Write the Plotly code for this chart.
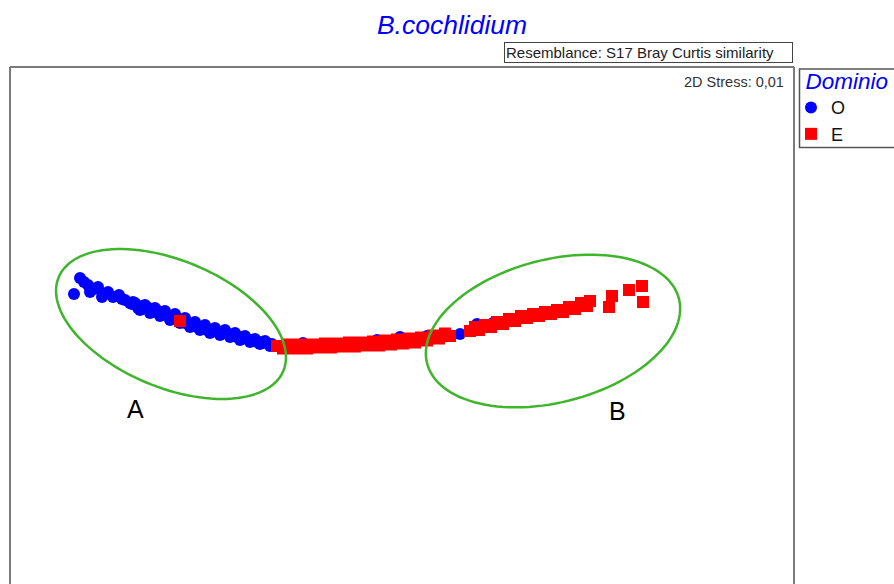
import numpy as np
import plotly.graph_objects as go

# ---- NMDS coordinates ----
o_x = [-3.28, -3.22, -3.18, -3.14, -3.12, -3.08, -3.04, -3.00, -2.97, -2.94, -2.89, -2.83,
       -2.80, -2.77, -2.72, -2.69, -2.64, -2.60, -2.55, -2.52, -2.49, -2.44, -2.40, -2.37,
       -2.32, -2.27, -2.17, -2.15, -2.10, -2.05, -2.00, -1.95, -1.90, -1.85, -1.80, -1.75,
       -1.70, -1.65, -1.60, -1.55, -1.50, -1.45, -1.40, -1.35, -1.30,
       -2.67, -2.57, -2.47, -2.37, -2.27, -2.17, -2.07, -1.97, -1.87, -1.77, -1.67, -1.57,
       -1.47, -1.37,
       -2.62, -2.52, -2.42, -2.32, -2.22, -2.12, -2.02, -1.92, -1.82, -1.72, -1.62, -1.52,
       -1.42, -1.32,
       -2.70, -2.60, -2.50, -2.40, -2.30, -2.20, -2.10, -2.00, -1.90, -1.80, -1.70, -1.60,
       -1.50, -1.40, -1.30,
       -0.99, -0.25, -0.02, 0.25, 0.58, 0.75, 0.91]
o_y = [0.31, 0.47, 0.43, 0.40, 0.33, 0.36, 0.38, 0.28, 0.31, 0.33, 0.28, 0.30,
       0.26, 0.25, 0.22, 0.23, 0.17, 0.19, 0.18, 0.15, 0.13, 0.14, 0.12, 0.12,
       0.07, 0.07, 0.02, 0.02, 0.00, -0.02, -0.03, -0.05, -0.05, -0.06, -0.07, -0.08,
       -0.10, -0.12, -0.12, -0.14, -0.15, -0.17, -0.17, -0.18, -0.19,
       0.22, 0.20, 0.17, 0.14, 0.11, 0.07, 0.03, 0.00, -0.03, -0.05, -0.08, -0.11,
       -0.14, -0.16,
       0.15, 0.12, 0.09, 0.05, 0.02, -0.02, -0.05, -0.08, -0.10, -0.12, -0.15, -0.17,
       -0.19, -0.21,
       0.21, 0.18, 0.15, 0.11, 0.08, 0.05, 0.01, -0.02, -0.06, -0.07, -0.10, -0.13,
       -0.15, -0.18, -0.20,
       -0.18, -0.15, -0.12, -0.11, -0.09, 0.01, 0.02]

e_x = [-2.22,
       -1.25, -1.19, -1.13, -1.07, -1.01, -0.95, -0.89, -0.83, -0.77, -0.71, -0.65, -0.59,
       -0.53, -0.47, -0.41, -0.35, -0.29, -0.23, -0.17, -0.11, -0.05, 0.01, 0.07, 0.13,
       0.19, 0.25, 0.31, 0.37, 0.43, 0.48,
       0.68, 0.73, 0.77, 0.83, 0.89, 0.95, 1.01, 1.07, 1.13, 1.19, 1.25, 1.31, 1.37,
       1.43, 1.49, 1.55, 1.61, 1.67, 1.73, 1.79, 1.85, 1.88,
       2.07, 2.10, 2.27, 2.40, 2.41]
e_y = [0.04,
       -0.21, -0.235, -0.195, -0.235, -0.195, -0.235, -0.195, -0.225, -0.185, -0.225, -0.185, -0.215,
       -0.175, -0.215, -0.175, -0.205, -0.165, -0.205, -0.155, -0.195, -0.145, -0.185, -0.135, -0.175,
       -0.125, -0.155, -0.105, -0.135, -0.085, -0.11,
       -0.06, -0.02, -0.05, 0.00, -0.02, 0.03, 0.01, 0.06, 0.04, 0.09, 0.07, 0.11, 0.09,
       0.13, 0.11, 0.15, 0.13, 0.18, 0.16, 0.22, 0.19, 0.24,
       0.18, 0.29, 0.35, 0.39, 0.23]

group_names = ["O", "E"]
title_text = "B.cochlidium"
resemblance_text = "Resemblance: S17 Bray Curtis similarity"
stress_text = "2D Stress: 0,01"
legend_title = "&nbsp;&nbsp;Dominio"

FONT = "Liberation Sans"


def ellipse_path(cx, cy, a, b, ang_deg, n=120):
    t = np.linspace(0, 2 * np.pi, n)
    th = np.deg2rad(ang_deg)
    xs = cx + a * np.cos(t) * np.cos(th) - b * np.sin(t) * np.sin(th)
    ys = cy + a * np.cos(t) * np.sin(th) + b * np.sin(t) * np.cos(th)
    pts = " L ".join(f"{x:.4f},{y:.4f}" for x, y in zip(xs, ys))
    return "M " + pts + " Z"


fig = go.Figure()
fig.add_trace(go.Scatter(x=o_x, y=o_y, mode="markers", name=group_names[0],
                         marker=dict(symbol="circle", size=12, color="#0000ff",
                                     line=dict(width=0))))
fig.add_trace(go.Scatter(x=e_x, y=e_y, mode="markers", name=group_names[1],
                         marker=dict(symbol="square", size=12, color="#ff0000",
                                     line=dict(width=0))))

W, H = 894, 584
L, R, T, B = 10, 100, 67, 0
pw, ph = W - L - R, H - T - B


def px_x(p):  # page pixel -> paper x
    return (p - L) / pw


def px_y(p):  # page pixel -> paper y
    return (H - B - p) / ph


green = "#3fb52c"
frame = "#7a7a7a"
shapes = [
    dict(type="path", xref="x", yref="y", path=ellipse_path(-2.31, 0.01, 1.217, 0.635, -22.6),
         line=dict(color=green, width=2.5)),
    dict(type="path", xref="x", yref="y", path=ellipse_path(1.51, -0.06, 1.30, 0.714, 14.4),
         line=dict(color=green, width=2.5)),
    dict(type="line", xref="paper", yref="paper", x0=0, x1=0, y0=-0.05, y1=1,
         line=dict(color=frame, width=2)),
    dict(type="line", xref="paper", yref="paper", x0=0, x1=1, y0=1, y1=1,
         line=dict(color=frame, width=2)),
    dict(type="line", xref="paper", yref="paper", x0=1, x1=1, y0=-0.05, y1=1,
         line=dict(color=frame, width=2)),
    dict(type="rect", xref="paper", yref="paper", x0=px_x(799.5), x1=px_x(910),
         y0=px_y(147.5), y1=px_y(69), line=dict(color="#555555", width=1.5)),
]

annotations = [
    dict(text=resemblance_text, xref="paper", yref="paper", x=px_x(648.5), y=px_y(52.5),
         xanchor="center", yanchor="middle", showarrow=False, width=285, height=17,
         align="left", borderpad=1, borderwidth=1, bordercolor="#444444", bgcolor="white",
         font=dict(family=FONT, size=15, color="#222222")),
    dict(text=stress_text, xref="paper", yref="paper", x=px_x(786), y=px_y(82),
         xanchor="right", yanchor="middle", showarrow=False,
         font=dict(family=FONT, size=14.5, color="#333333")),
    dict(text="A", xref="x", yref="y", x=-2.67, y=-0.84, showarrow=False,
         xanchor="center", yanchor="middle", font=dict(family=FONT, size=25, color="black")),
    dict(text="B", xref="x", yref="y", x=2.15, y=-0.86, showarrow=False,
         xanchor="center", yanchor="middle", font=dict(family=FONT, size=25, color="black")),
]

fig.update_layout(
    width=W, height=H,
    margin=dict(l=L, r=R, t=T, b=B, autoexpand=False),
    paper_bgcolor="white", plot_bgcolor="white",
    title=dict(text=title_text, x=452 / W, xref="container", xanchor="center",
               y=1 - 25 / H, yref="container", yanchor="middle",
               font=dict(family=FONT, size=26.5, color="#0000ff", style="italic")),
    xaxis=dict(range=[-3.92, 3.92], visible=False, showgrid=False, zeroline=False),
    yaxis=dict(range=[-2.59, 2.58], visible=False, showgrid=False, zeroline=False),
    showlegend=True,
    legend=dict(x=px_x(791), xanchor="left", y=px_y(60), yanchor="top",
                bgcolor="rgba(0,0,0,0)", borderwidth=0,
                title=dict(text=legend_title,
                           font=dict(family=FONT, size=22.5, color="#0000ff", style="italic")),
                font=dict(family=FONT, size=18, color="#111111"),
                itemsizing="trace"),
    shapes=shapes,
    annotations=annotations,
)

# remove the default 8px page margin so the figure fills the 894x584 window exactly
fig.write_html("out.html",
               config={"displayModeBar": False},
               post_script="document.body.style.margin='0';document.body.style.overflow='hidden';")
